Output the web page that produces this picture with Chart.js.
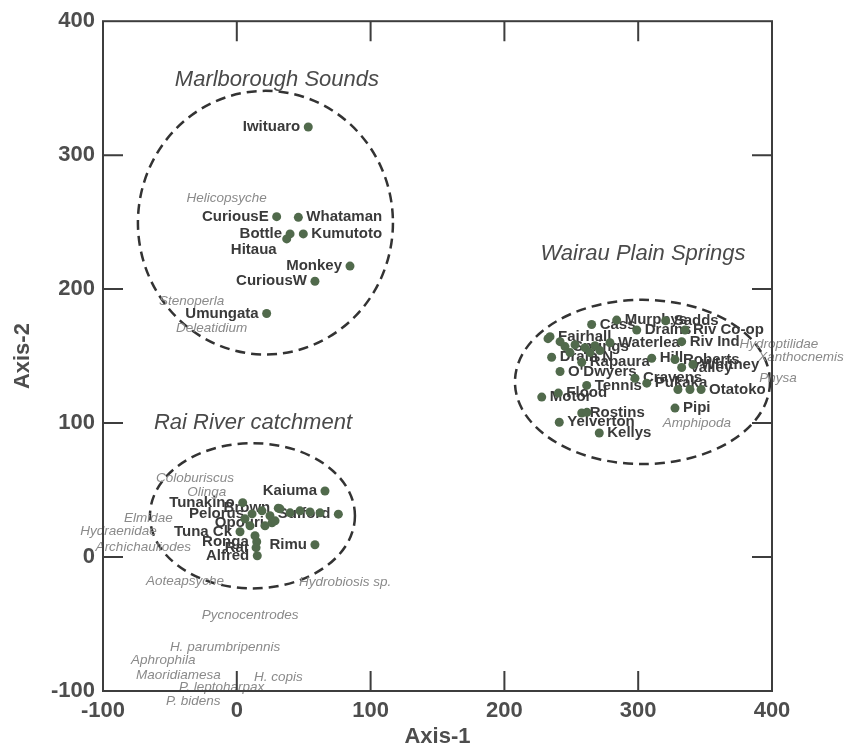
<!DOCTYPE html>
<html><head><meta charset="utf-8">
<script src="https://cdn.jsdelivr.net/npm/chart.js@4.4.1/dist/chart.umd.min.js"></script>
<style>html,body{margin:0;padding:0;background:#fff;}</style>
</head><body>
<canvas id="c" width="848" height="750"></canvas>
<script>
// ---- tick values ----
const axisTicks = [-100, 0, 100, 200, 300, 400];
const innerTicks = [0, 100, 200, 300];

// ---- Marlborough Sounds sites ----
const marlNames = ['Iwituaro','CuriousE','Whataman','Bottle','Hitaua','Kumutoto','Monkey','CuriousW','Umungata'];
const marlX = [53.4, 29.8, 46, 39.8, 37.3, 49.7, 84.6, 58.4, 22.3];
const marlY = [321, 254.1, 253.6, 241.2, 237.5, 241.2, 217.2, 205.9, 181.8];

// ---- Wairau Plain Springs sites ----
const wairNames = ['Murphys','Sadds','Cass','Drains','Riv Co-op','Fairhall','Springs','Waterlea','Riv Ind','Drain N','Rapaura','Hill','Roberts','Valley','Whitney',"O'Dwyers",'Cravens','Pukaka','Tennis','','','Otatoko','Flood','Motor','Pipi','Rostins','','Yelverton','Kellys','','','','','','','',''];
const wairX = [283.9, 320.5, 265.2, 298.9, 335, 234.1, 245.3, 278.9, 332.5, 235.3, 257.8, 310.1, 327.5, 332.5, 340.9, 241.6, 297.6, 306.4, 261.5, 329.7, 338.7, 347, 240.3, 227.9, 327.5, 257.8, 261.7, 241, 270.9, 252.8, 260.2, 267.7, 271.4, 249, 264, 241.6, 232.6];
const wairY = [176.9, 176.4, 173.6, 169.5, 169.5, 164.5, 157.1, 160.0, 160.8, 149.1, 145.4, 148.4, 147.4, 141.5, 143.7, 138.5, 133.5, 129.8, 128.1, 125.1, 125.1, 125.1, 122.4, 119.4, 111.2, 107.5, 108, 100.6, 92.6, 158.5, 156.3, 157.8, 154.1, 152.6, 152.6, 160.8, 163.0];

// ---- Rai River catchment sites ----
const raiNames = ['Kaiuma','Sulford','Tunakino','Brown','Pelorus','Opouri','Tuna Ck','Ronga','Rai','Alfred','Rimu','','','','','','','','','','','',''];
const raiX = [65.9, 75.9, 4.4, 31, 11.4, 26.3, 2.4, 14.9, 14.4, 15.3, 58.4, 18.8, 24.8, 32.3, 39.8, 47.2, 54.7, 62.2, 9.9, 21.1, 28.6, 13.6, 6.1];
const raiY = [49.3, 32, 40.6, 36.5, 32.2, 25.6, 18.9, 11.4, 7.0, 1, 9.2, 34.5, 30.8, 36.0, 33.0, 34.5, 33.7, 33.0, 23.3, 23.3, 27.0, 15.9, 28.5];

// ---- taxa (text only) ----
const taxaNames = ['Helicopsyche','Stenoperla','Deleatidium','Hydroptilidae','Xanthocnemis','Physa','Amphipoda','Coloburiscus','Olinga','Elmidae','Hydraenidae','Archichauliodes','Aoteapsyche','Hydrobiosis sp.','Pycnocentrodes','H. parumbripennis','Aphrophila','Maoridiamesa','H. copis','P. leptoharpax','P. bidens'];
const taxaX = [-7.6, -33.7, -18.8, 405.2, 421.7, 404.5, 343.9, -31.2, -22.5, -66.1, -88.4, -69.9, -38.7, 80.9, 9.9, -8.8, -54.9, -43.7, 31, -11.3, -32.5];
const taxaY = [267.8, 191, 170.7, 158.5, 148.9, 133.3, 99.9, 58.8, 48.1, 29.0, 19.1, 7.2, -18.3, -18.8, -43.5, -67.1, -77, -88.6, -89.8, -97.3, -108];

// ---- group ellipses and titles ----
const groupTitles = ['Marlborough Sounds','Wairau Plain Springs','Rai River catchment'];
const titleX = [30, 303.6, 12.1];
const titleY = [356.2, 226.2, 99.9];
const ellCX = [21.4, 303.2, 11.7];
const ellCY = [249.6, 130.7, 30.8];
const ellRX = [95.3, 95.3, 76.6];
const ellRY = [98.4, 61.3, 54.2];

// label placement (style, not data)
const leftSide = new Set(['Iwituaro','CuriousE','Bottle','Monkey','CuriousW','Umungata','Kaiuma','Sulford','Tunakino','Brown','Pelorus','Opouri','Tuna Ck','Ronga','Rai','Alfred','Rimu']);
const belowLeft = new Set(['Hitaua']);

const FAM = '"Liberation Sans", Arial, sans-serif';
const dotColor = '#516a4c';
const pts = (xs, ys) => xs.map((v, i) => ({x: v, y: ys[i]}));

const overlay = {
  id: 'overlay',
  beforeDatasetsDraw(chart) {
    const {ctx, scales: {x, y}} = chart;
    ctx.save();
    // ellipses
    ctx.setLineDash([10, 6]);
    ctx.lineWidth = 2.5;
    ctx.strokeStyle = '#333';
    for (let i = 0; i < ellCX.length; i++) {
      const cx = x.getPixelForValue(ellCX[i]);
      const cy = y.getPixelForValue(ellCY[i]);
      const rx = Math.abs(x.getPixelForValue(ellCX[i] + ellRX[i]) - cx);
      const ry = Math.abs(y.getPixelForValue(ellCY[i] + ellRY[i]) - cy);
      ctx.beginPath();
      ctx.ellipse(cx, cy, rx, ry, 0, 0, Math.PI * 2);
      ctx.stroke();
    }
    ctx.setLineDash([]);
    // site labels
    ctx.font = 'bold 15px ' + FAM;
    ctx.fillStyle = '#3a3a3a';
    ctx.textBaseline = 'middle';
    const groups = [marlNames, wairNames, raiNames];
    groups.forEach((names, di) => {
      const meta = chart.getDatasetMeta(di);
      names.forEach((n, i) => {
        if (!n) return;
        const el = meta.data[i];
        if (belowLeft.has(n)) {
          ctx.textAlign = 'right';
          ctx.fillText(n, el.x - 10, el.y + 11);
        } else if (leftSide.has(n)) {
          ctx.textAlign = 'right';
          ctx.fillText(n, el.x - 8, el.y);
        } else {
          ctx.textAlign = 'left';
          ctx.fillText(n, el.x + 8, el.y);
        }
      });
    });
    ctx.restore();
  },
  afterDatasetsDraw(chart) {
    const {ctx, chartArea: a, scales: {x, y}} = chart;
    ctx.save();
    // taxa labels
    const meta = chart.getDatasetMeta(3);
    ctx.font = 'italic 13.5px ' + FAM;
    ctx.fillStyle = '#8a8a8a';
    ctx.textAlign = 'center';
    ctx.textBaseline = 'middle';
    taxaNames.forEach((n, i) => {
      const el = meta.data[i];
      ctx.fillText(n, el.x, el.y);
    });
    // group titles
    ctx.font = 'italic 22px ' + FAM;
    ctx.fillStyle = '#4a4a4a';
    groupTitles.forEach((t, i) => {
      ctx.fillText(t, x.getPixelForValue(titleX[i]), y.getPixelForValue(titleY[i]));
    });
    // frame and inward ticks
    ctx.strokeStyle = '#3d3d3d';
    ctx.lineWidth = 2;
    ctx.strokeRect(a.left, a.top, a.right - a.left, a.bottom - a.top);
    const tl = 20;
    ctx.beginPath();
    innerTicks.forEach(v => {
      const px = x.getPixelForValue(v);
      ctx.moveTo(px, a.bottom); ctx.lineTo(px, a.bottom - tl);
      ctx.moveTo(px, a.top); ctx.lineTo(px, a.top + tl);
      const py = y.getPixelForValue(v);
      ctx.moveTo(a.left, py); ctx.lineTo(a.left + tl, py);
      ctx.moveTo(a.right, py); ctx.lineTo(a.right - tl, py);
    });
    ctx.stroke();
    ctx.restore();
  }
};

const tickFont = {size: 22, weight: 'bold', family: FAM};
const titleFont = {size: 22, weight: 'bold', family: FAM};

new Chart(document.getElementById('c'), {
  type: 'scatter',
  data: {
    datasets: [
      {data: pts(marlX, marlY), backgroundColor: dotColor, borderWidth: 0, pointRadius: 4.5},
      {data: pts(wairX, wairY), backgroundColor: dotColor, borderWidth: 0, pointRadius: 4.5},
      {data: pts(raiX, raiY), backgroundColor: dotColor, borderWidth: 0, pointRadius: 4.5},
      {data: pts(taxaX, taxaY), pointRadius: 0, borderWidth: 0}
    ]
  },
  options: {
    responsive: false,
    animation: false,
    events: [],
    layout: {padding: {left: 0, right: 76, top: 18, bottom: 0}},
    plugins: {legend: {display: false}, tooltip: {enabled: false}},
    scales: {
      x: {
        type: 'linear', min: -100, max: 400,
        afterBuildTicks: s => { s.ticks = axisTicks.map(v => ({value: v})); },
        afterFit: s => { s.height = 59; },
        grid: {display: false, drawTicks: false},
        border: {display: false},
        ticks: {padding: 7, color: '#4d4d4d', font: tickFont, maxRotation: 0, autoSkip: false},
        title: {display: true, text: 'Axis-1', color: '#4d4d4d', font: titleFont, padding: {top: 0, bottom: 0}}
      },
      y: {
        type: 'linear', min: -100, max: 400,
        afterBuildTicks: s => { s.ticks = axisTicks.map(v => ({value: v})); },
        afterFit: s => { s.width = 103; },
        grid: {display: false, drawTicks: false},
        border: {display: false},
        ticks: {padding: 8, color: '#4d4d4d', font: tickFont, autoSkip: false},
        title: {display: true, text: 'Axis-2', color: '#4d4d4d', font: titleFont, padding: {top: 10, bottom: 0}}
      }
    }
  },
  plugins: [overlay]
});
</script>
</body></html>
